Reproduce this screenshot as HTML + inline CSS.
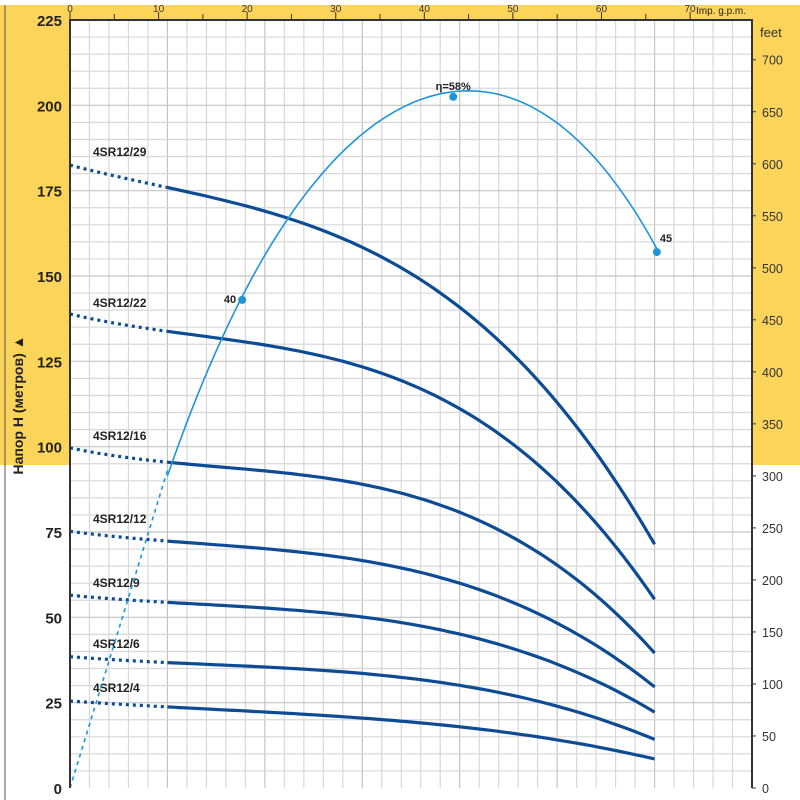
<!DOCTYPE html>
<html><head><meta charset="utf-8"><style>
html,body{margin:0;padding:0;background:#fff}
svg{display:block}
text{font-family:"Liberation Sans",sans-serif}
</style></head><body>
<svg id="chart" width="800" height="800" viewBox="0 0 800 800" xmlns="http://www.w3.org/2000/svg">
<rect x="0" y="5" width="800" height="15" fill="#fcd45a"/>
<rect x="0" y="5" width="70" height="460" fill="#fcd45a"/>
<rect x="752" y="5" width="48" height="460" fill="#fcd45a"/>
<line x1="5" y1="5" x2="5" y2="800" stroke="#555" stroke-width="1"/>
<rect x="70" y="20" width="682" height="768" fill="#fff"/>
<g id="grid"></g>
<g id="curves"></g>
<g id="axes"></g>
<text x="0" y="0" transform="translate(23,405) rotate(-90)" text-anchor="middle" font-size="14" font-weight="bold" fill="#222">Напор  H  (метров)  ▲</text>
<text x="760" y="37" font-size="13" fill="#333">feet</text>
<text x="696" y="14" font-size="10" fill="#222">Imp. g.p.m.</text>
</svg>
<script>
const headTicks=[0,25,50,75,100,125,150,175,200,225];
const feetTicks=[0,50,100,150,200,250,300,350,400,450,500,550,600,650,700];
const gpmTicks=[0,10,20,30,40,50,60,70];
const flowPts=[0,3,6,9,12,15,18];
const pumpNames=["4SR12/29","4SR12/22","4SR12/16","4SR12/12","4SR12/9","4SR12/6","4SR12/4"];
const head29=[182.5,175.8,169.3,158.5,140,113.7,71.2];
const head22=[138.3,135,129.8,122.5,110,91.7,54.5];
const head16=[99.3,96.1,93.2,88.2,80,66.8,39];
const head12=[75,72.7,70.3,66.2,59.5,49.2,29.3];
const head9=[56.3,54.8,52.7,49.8,44.8,36.9,22];
const head6=[38.4,36.9,35.5,33.4,29.9,24.3,14.1];
const head4=[25.5,23.7,22.3,20.5,17.9,14.1,8.5];
const effFlow=[0,3,4.3,5.3,7.08,8.6,10.16,11.8,13.2,14.8,16.3,18.07];
const effCurveY=[0,93,121,143,173.7,190,199,202.5,201.6,196.3,185.5,157];
const effMarkers=[[5.3,143,"40"],[11.8,202.5,"η=58%"],[18.07,157,"45"]];
const NS="http://www.w3.org/2000/svg";
const X0=70,X1=752,Y0=788,Y1=20,QMAX=21,HMAX=225;
const xs=q=>X0+q*(X1-X0)/QMAX;
const ys=h=>Y0-h*(Y0-Y1)/HMAX;
const gx=g=>xs(g*0.27276);
function mk(tag,attrs,parent){const e=document.createElementNS(NS,tag);for(const k in attrs)e.setAttribute(k,attrs[k]);parent.appendChild(e);return e;}
function polyfit(X,Y,deg){const n=deg+1;const A=[];for(let i=0;i<n;i++){A.push(new Array(n+1).fill(0));}
 for(let k=0;k<X.length;k++){for(let i=0;i<n;i++){for(let j=0;j<n;j++)A[i][j]+=Math.pow(X[k],i+j);A[i][n]+=Y[k]*Math.pow(X[k],i);}}
 for(let i=0;i<n;i++){let p=i;for(let r=i+1;r<n;r++)if(Math.abs(A[r][i])>Math.abs(A[p][i]))p=r;[A[i],A[p]]=[A[p],A[i]];
  for(let r=0;r<n;r++){if(r==i)continue;const f=A[r][i]/A[i][i];for(let c=i;c<=n;c++)A[r][c]-=f*A[i][c];}}
 return A.map((row,i)=>row[n]/row[i]);}
const pev=(c,x)=>c.reduce((s,v,i)=>s+v*Math.pow(x,i),0);
function fitPath(X,Y,deg,a,b){const c=polyfit(X,Y,deg);let d='';for(let i=0;i<=80;i++){const q=a+(b-a)*i/80;d+=(i?' L':'M')+xs(q).toFixed(1)+','+ys(pev(c,q)).toFixed(1);}return d;}
const grid=document.getElementById('grid'),curves=document.getElementById('curves'),axes=document.getElementById('axes');
for(let i=1;i<35;i++){const x=X0+i*(X1-X0)/35;const l=mk('line',{x1:x,y1:Y1,x2:x,y2:Y0,stroke:i%5==0?'#c4c4c4':'#d8d8d8','stroke-width':1.2},grid);

}
for(let i=1;i<45;i++){const y=ys(i*5);const l=mk('line',{x1:X0,y1:y,x2:X1,y2:y,stroke:i%5==0?'#c4c4c4':'#d8d8d8','stroke-width':1.2},grid);

}
const heads=[head29,head22,head16,head12,head9,head6,head4];
heads.forEach((h,k)=>{
 const q0=flowPts[1],qN=flowPts[flowPts.length-1];
 const dot=mk('path',{d:fitPath(flowPts,h,3,0,q0),fill:'none',stroke:'#0d4c94','stroke-width':3.2,'stroke-dasharray':'3,4'},curves);
 
 
 const sol=mk('path',{d:fitPath(flowPts,h,3,q0,qN),fill:'none',stroke:'#0d4c94','stroke-width':3.2},curves);
 
 
 const t=mk('text',{x:93,y:ys(h[0])-9,'font-size':12,'font-weight':'bold',fill:'#222'},curves);t.textContent=pumpNames[k];
 
 
});
const ed=mk('path',{d:'M'+xs(effFlow[0])+','+ys(effCurveY[0])+' L'+xs(effFlow[1])+','+ys(effCurveY[1]),fill:'none',stroke:'#1f95d8','stroke-width':1.6,'stroke-dasharray':'4,4'},curves);


const es=mk('path',{d:fitPath(effFlow.slice(1),effCurveY.slice(1),4,effFlow[1],effFlow[effFlow.length-1]),fill:'none',stroke:'#1f95d8','stroke-width':1.6},curves);


effMarkers.forEach((m,i)=>{const c=mk('circle',{cx:xs(m[0]),cy:ys(m[1]),r:4,fill:'#1f95d8'},curves);


const pos=i==0?{x:xs(m[0])-6,y:ys(m[1])+3,a:'end'}:i==1?{x:xs(m[0]),y:ys(m[1])-7,a:'middle'}:{x:xs(m[0])+3,y:ys(m[1])-10,a:'start'};
const t=mk('text',{x:pos.x,y:pos.y,'text-anchor':pos.a,'font-size':11,'font-weight':'bold',fill:'#222'},curves);t.textContent=m[2];

});
const fr=mk('path',{d:`M${X0},${Y0} L${X0},${Y1} L${X1},${Y1} L${X1},${Y0}`,fill:'none',stroke:'#333','stroke-width':2},axes);


headTicks.forEach(v=>{const t=mk('text',{x:62,y:ys(v)+6,'text-anchor':'end','font-size':15,'font-weight':'bold',fill:'#222'},axes);t.textContent=v;

});
feetTicks.forEach(v=>{const y=ys(v*0.3048);const l=mk('line',{x1:X1,y1:y,x2:X1+4,y2:y,stroke:'#333'},axes);


const t=mk('text',{x:762,y:y+5,'font-size':12.5,fill:'#333'},axes);t.textContent=v;

});
gpmTicks.forEach(v=>{const x=gx(v);const l=mk('line',{x1:x,y1:12,x2:x,y2:20,stroke:'#333'},axes);


const t=mk('text',{x:x,y:12,'text-anchor':'middle','font-size':10,fill:'#333'},axes);t.textContent=v;


if(v<70){const l2=mk('line',{x1:gx(v+5),y1:14,x2:gx(v+5),y2:20,stroke:'#333'},axes);

}});
</script>
</body></html>
